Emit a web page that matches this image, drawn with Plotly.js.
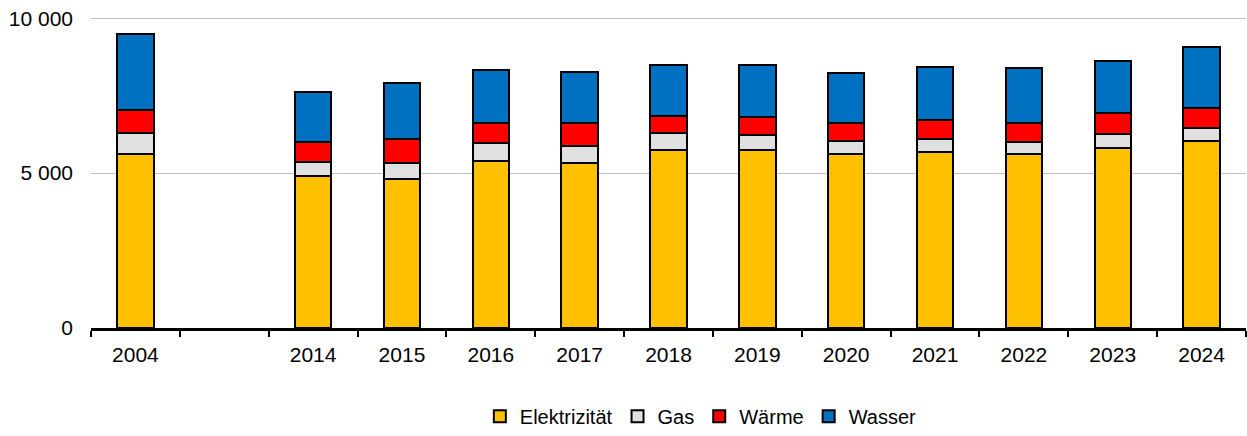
<!DOCTYPE html>
<html>
<head>
<meta charset="utf-8">
<script src="https://cdn.plot.ly/plotly-3.0.1.min.js"></script>
<style>html,body{margin:0;padding:0;background:#fff;}#chart{width:1247px;height:436px;}</style>
</head>
<body>
<div id="chart"></div>
<script>
const categories = ['2004', ' ', '2014', '2015', '2016', '2017', '2018', '2019', '2020', '2021', '2022', '2023', '2024'];
const elektrizitaet = [5630, null, 4890, 4810, 5390, 5340, 5750, 5760, 5620, 5670, 5600, 5800, 6030];
const gas           = [660,  null, 470,  510,  580,  520,  530,  470,  420,  430,  400,  460,  430];
const waerme        = [750,  null, 640,  780,  640,  750,  550,  570,  570,  620,  610,  680,  650];
const wasser        = [2440, null, 1610, 1800, 1710, 1660, 1660, 1690, 1630, 1710, 1780, 1670, 1970];

const seriesNames = ['Elektrizität', 'Gas', 'Wärme', 'Wasser'];
const seriesColors = ['#FFC000', '#E0E0E0', '#FF0000', '#0070C0'];
const seriesValues = [elektrizitaet, gas, waerme, wasser];

const traces = seriesValues.map((vals, i) => ({
  type: 'bar',
  name: seriesNames[i],
  x: categories,
  y: vals,
  marker: { color: seriesColors[i], line: { color: '#000000', width: 2 } },
  hoverinfo: 'x+y+name'
}));

const layout = {
  width: 1247,
  height: 436,
  barmode: 'stack',
  bargap: 0.59,
  separators: ', ',
  paper_bgcolor: '#ffffff',
  plot_bgcolor: '#ffffff',
  margin: { l: 91, r: 1, t: 16, b: 107 },
  font: { family: 'Liberation Sans, Arial, sans-serif', size: 21, color: '#000000' },
  xaxis: {
    type: 'category',
    categoryorder: 'array',
    categoryarray: categories,
    showgrid: false,
    showline: true,
    linecolor: '#000000',
    linewidth: 3,
    ticks: 'outside',
    tickson: 'boundaries',
    ticklen: 6,
    tickwidth: 2,
    tickcolor: '#000000',
    ticklabelstandoff: 6,
    tickfont: { size: 21 },
    fixedrange: true
  },
  yaxis: {
    range: [0, 10070],
    dtick: 5000,
    tick0: 0,
    tickformat: ',d',
    showgrid: true,
    gridcolor: '#BFBFBF',
    gridwidth: 1,
    zeroline: false,
    showline: false,
    ticks: '',
    ticklabelstandoff: 17,
    tickfont: { size: 21 },
    fixedrange: true
  },
  legend: {
    orientation: 'h',
    x: 0.528,
    xanchor: 'center',
    y: -0.341,
    yanchor: 'bottom',
    font: { size: 20 },
    itemwidth: 30,
    tracegroupgap: 0,
    traceorder: 'normal'
  },
  showlegend: true
};

Plotly.newPlot('chart', traces, layout, { displayModeBar: false, staticPlot: true });
</script>
</body>
</html>
